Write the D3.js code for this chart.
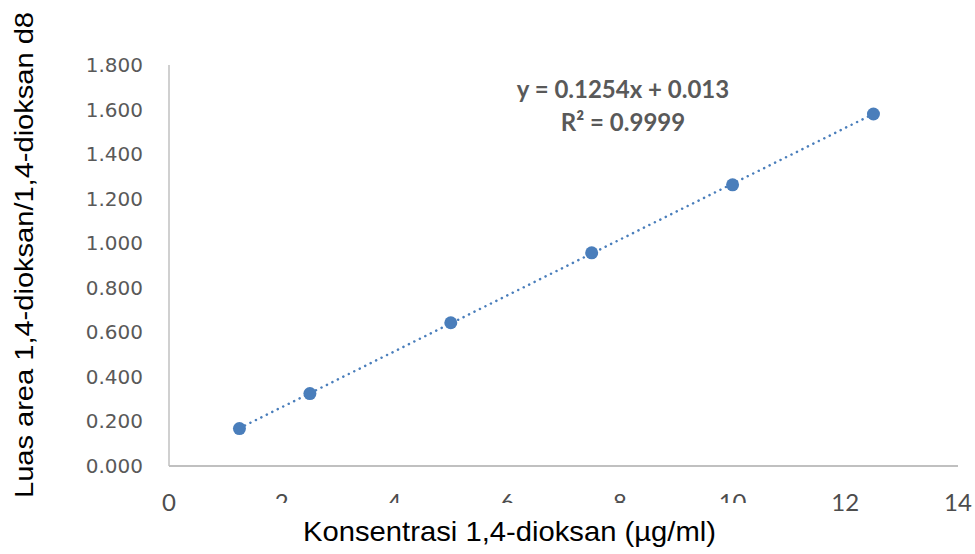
<!DOCTYPE html>
<html>
<head>
<meta charset="utf-8">
<script src="https://cdn.jsdelivr.net/npm/d3@7"></script>
<style>
  body { margin: 0; background: #fff; }
  svg { display: block; }
</style>
</head>
<body>
<svg id="chart" width="975" height="554"></svg>
<script>
// calibration points
const konsentrasi = [1.25, 2.5, 5, 7.5, 10, 12.5];
const luasRasio = [0.168, 0.325, 0.643, 0.957, 1.262, 1.580];
const xTicks = [0, 2, 4, 6, 8, 10, 12, 14];
const yTicks = [0, 0.2, 0.4, 0.6, 0.8, 1.0, 1.2, 1.4, 1.6, 1.8];
const slope = 0.1254, intercept = 0.013;
const eqLines = ["y = 0.1254x + 0.013", "R² = 0.9999"];

const svg = d3.select("#chart");
const blue = "#4a7ebb";

let x = d3.scaleLinear().domain([0, 14]).range([169, 958]);
let y = d3.scaleLinear().domain([0, 1.8]).range([466, 65]);

// clip used for the partly hidden x labels (as in the source image)
svg.append("clipPath").attr("id", "cut")
    .append("rect").attr("x", 0).attr("y", 0).attr("width", 975).attr("height", 503);

// axis lines
svg.append("line")
    .attr("x1", x(0)).attr("x2", x(0))
    .attr("y1", y(1.8)).attr("y2", y(0))
    .attr("stroke", "#c0c0c0").attr("stroke-width", 1.5);
svg.append("line")
    .attr("x1", x(0)).attr("x2", x(14))
    .attr("y1", y(0)).attr("y2", y(0))
    .attr("stroke", "#c0c0c0").attr("stroke-width", 2);

// y tick labels
svg.selectAll(".ytick")
    .data(yTicks)
    .enter()
    .append("text")
    .attr("class", "ytick")
    .attr("x", 143)
    .attr("y", d => y(d) + 7)
    .attr("text-anchor", "end")
    .attr("fill", "#595959")
    .style("font-family", "DejaVu Sans, sans-serif")
    .style("font-size", "20px")
    .text(d => d3.format(".3f")(d));

// x tick labels
svg.selectAll(".xtick")
    .data(xTicks)
    .enter()
    .append("text")
    .attr("class", "xtick")
    .attr("x", d => x(d))
    .attr("y", 511)
    .attr("text-anchor", "middle")
    .attr("fill", "#4d4d4d")
    .attr("clip-path", d => (d > 0 && d < 12) ? "url(#cut)" : null)
    .style("font-family", "Lato, sans-serif")
    .style("font-size", "24px")
    .text(d => d);

// trendline
let fit = konsentrasi.map(d => [d, slope * d + intercept]);
let trend = [fit[0], fit[fit.length - 1]];
svg.append("path")
    .attr("d", d3.line().x(d => x(d[0])).y(d => y(d[1]))(trend))
    .attr("fill", "none")
    .attr("stroke", blue)
    .attr("stroke-width", 2.5)
    .attr("stroke-linecap", "round")
    .attr("stroke-dasharray", "0.1,6");

// points
svg.selectAll(".pt")
    .data(konsentrasi)
    .enter()
    .append("circle")
    .attr("class", "pt")
    .attr("cx", d => x(d))
    .attr("cy", (d, i) => y(luasRasio[i]))
    .attr("r", 6.5)
    .attr("fill", blue);

// equation
svg.selectAll(".eq")
    .data(eqLines)
    .enter()
    .append("text")
    .attr("class", "eq")
    .attr("x", 623)
    .attr("y", (d, i) => 98 + i * 33)
    .attr("text-anchor", "middle")
    .attr("fill", "#595959")
    .style("font-family", "Lato, sans-serif")
    .style("font-weight", "bold")
    .style("font-size", "24px")
    .text(d => d);

// axis titles
svg.append("text")
    .attr("x", 303)
    .attr("y", 541)
    .attr("textLength", 413)
    .attr("lengthAdjust", "spacingAndGlyphs")
    .attr("fill", "#000")
    .style("font-family", "Liberation Sans, Arial, sans-serif")
    .style("font-size", "28px")
    .text("Konsentrasi 1,4-dioksan (µg/ml)");

svg.append("text")
    .attr("transform", "translate(33,498) rotate(-90)")
    .attr("textLength", 486)
    .attr("lengthAdjust", "spacingAndGlyphs")
    .attr("fill", "#000")
    .style("font-family", "Liberation Sans, Arial, sans-serif")
    .style("font-size", "25px")
    .text("Luas area 1,4-dioksan/1,4-dioksan d8");
</script>
</body>
</html>
